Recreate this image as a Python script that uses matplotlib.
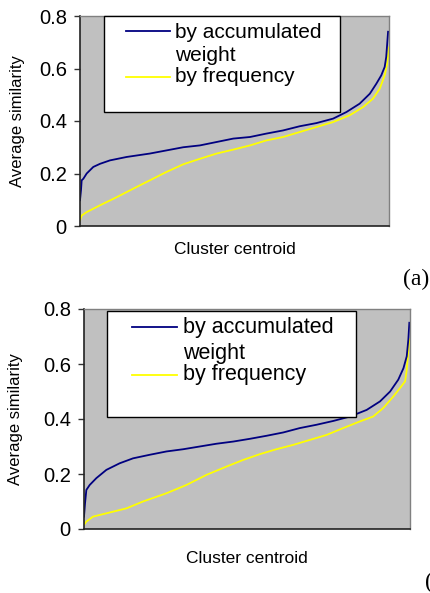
import matplotlib
matplotlib.use("Agg")
import matplotlib.pyplot as plt
from matplotlib.patches import Rectangle

plt.rcParams['font.family'] = ['Liberation Sans', 'DejaVu Sans']

# cluster rank (% of sorted centroids) and average similarity
a_weight_x = [0, 0.32, 0.54, 1.08, 2.16, 4.3, 6.5, 9.7, 15.1, 22.6, 28.0, 33.4, 38.8, 44.2,
              49.6, 55.0, 60.3, 65.7, 71.1, 76.5, 81.9, 86.2, 90.5, 93.8, 95.9, 97.5,
              98.6, 99.1, 99.7]
a_weight_y = [0.098, 0.136, 0.174, 0.18, 0.20, 0.225, 0.237, 0.25, 0.263, 0.276, 0.288,
              0.300, 0.307, 0.320, 0.333, 0.339, 0.352, 0.364, 0.380, 0.392, 0.409, 0.434,
              0.466, 0.504, 0.542, 0.574, 0.606, 0.644, 0.74]
a_freq_x = [0, 0.54, 2.16, 6.5, 11.9, 17.2, 22.6, 28.0, 33.4, 38.8, 44.2, 49.6, 55.0, 60.3,
            65.7, 71.1, 76.5, 81.9, 87.3, 91.6, 94.8, 97.0, 98.6, 99.4, 100]
a_freq_y = [0.022, 0.040, 0.053, 0.079, 0.110, 0.142, 0.174, 0.206, 0.235, 0.256, 0.276,
            0.291, 0.307, 0.326, 0.339, 0.358, 0.377, 0.396, 0.422, 0.453, 0.485, 0.523,
            0.574, 0.618, 0.68]

b_weight_x = [0, 0.31, 0.72, 1.74, 3.79, 6.86, 10.95, 15.05, 20.2, 25.3, 30.4, 35.5, 40.6,
              45.8, 50.9, 56.0, 61.1, 66.2, 71.3, 76.5, 81.6, 86.7, 90.8, 93.9, 96.4, 98.0,
              99.0, 99.5, 99.8]
b_weight_y = [0.045, 0.093, 0.142, 0.160, 0.185, 0.215, 0.239, 0.257, 0.270, 0.282, 0.290,
              0.300, 0.310, 0.318, 0.328, 0.339, 0.351, 0.367, 0.379, 0.393, 0.409, 0.433,
              0.464, 0.500, 0.543, 0.585, 0.628, 0.690, 0.750]
b_freq_x = [0, 0.72, 2.76, 6.86, 13.0, 18.1, 25.3, 31.4, 37.6, 43.7, 48.8, 53.9, 59.0, 64.2,
            69.3, 74.4, 79.5, 84.6, 88.7, 91.8, 94.9, 96.9, 98.5, 99.0, 99.5, 99.8]
b_freq_y = [0.015, 0.027, 0.045, 0.057, 0.075, 0.100, 0.130, 0.160, 0.197, 0.227, 0.251,
            0.272, 0.290, 0.306, 0.324, 0.342, 0.367, 0.391, 0.409, 0.440, 0.482, 0.512,
            0.537, 0.579, 0.652, 0.690]

y_ticks = [0, 0.2, 0.4, 0.6, 0.8]
y_labels = ['0', '0.2', '0.4', '0.6', '0.8']
label_weight = 'by accumulated'
label_weight2 = 'weight'
label_freq = 'by frequency'

BLUE = '#000080'
YELLOW = '#ffff00'

fig = plt.figure(figsize=(4.30, 5.93), dpi=100)


def panel(rect, wx, wy, fx, fy, box, lines, texts, xlab_y, ylab_x, fs):
    ax = fig.add_axes(rect)
    ax.set_facecolor('#c0c0c0')
    ax.plot(fx, fy, color=YELLOW, lw=1.3)
    ax.plot(wx, wy, color=BLUE, lw=1.3)
    ax.set_xlim(0, 100)
    ax.set_ylim(0, 0.8)
    ax.set_xticks([])
    ax.set_yticks(y_ticks)
    ax.set_yticklabels(y_labels, fontsize=14.5)
    ax.tick_params(axis='y', length=4.5, width=1, color='#333333', pad=5)
    for s in ['left', 'bottom']:
        ax.spines[s].set_color('#222222')
        ax.spines[s].set_linewidth(1.2)
    for s in ['top', 'right']:
        ax.spines[s].set_color('#808080')
        ax.spines[s].set_linewidth(1.0)
    ax.set_ylabel('Average similarity', fontsize=12)
    ax.yaxis.set_label_coords(ylab_x, 0.5)
    ax.text(0.5, xlab_y, 'Cluster centroid', transform=ax.transAxes,
            ha='center', va='center', fontsize=12.5)

    # legend box
    ax.add_patch(Rectangle((box[0], box[1]), box[2], box[3], transform=ax.transAxes,
                           facecolor='white', edgecolor='black', lw=1.0, zorder=5,
                           clip_on=False))
    ax.plot(lines[0], [lines[1], lines[1]], color=BLUE, lw=1.3,
            transform=ax.transAxes, zorder=6, clip_on=False)
    ax.plot(lines[0], [lines[2], lines[2]], color=YELLOW, lw=1.3,
            transform=ax.transAxes, zorder=6, clip_on=False)
    for txt, yy in zip([label_weight, label_weight2, label_freq], texts[1:]):
        ax.text(texts[0], yy, txt, transform=ax.transAxes, fontsize=fs,
                ha='left', va='baseline', zorder=6)
    return ax


panel([80 / 430, 1 - 226 / 593, 309 / 430, 210 / 593],
      a_weight_x, a_weight_y, a_freq_x, a_freq_y,
      box=(0.078, 0.543, 0.764, 0.457),
      lines=([0.149, 0.291], 0.929, 0.711),
      texts=(0.307, 0.894, 0.786, 0.687),
      xlab_y=-0.11, ylab_x=-0.178, fs=15)

panel([84 / 430, 1 - 529 / 593, 326 / 430, 220 / 593],
      b_weight_x, b_weight_y, b_freq_x, b_freq_y,
      box=(0.071, 0.509, 0.764, 0.482),
      lines=([0.147, 0.285], 0.917, 0.701),
      texts=(0.303, 0.891, 0.773, 0.679),
      xlab_y=-0.136, ylab_x=-0.187, fs=15.5)

fig.text(403 / 430, 1 - 285 / 593, '(a)', fontsize=17, family='Liberation Serif',
         ha='left', va='baseline')
fig.text(425 / 430, 1 - 588 / 593, '(b)', fontsize=17, family='Liberation Serif',
         ha='left', va='baseline')

fig.savefig('out.png', dpi=100)
